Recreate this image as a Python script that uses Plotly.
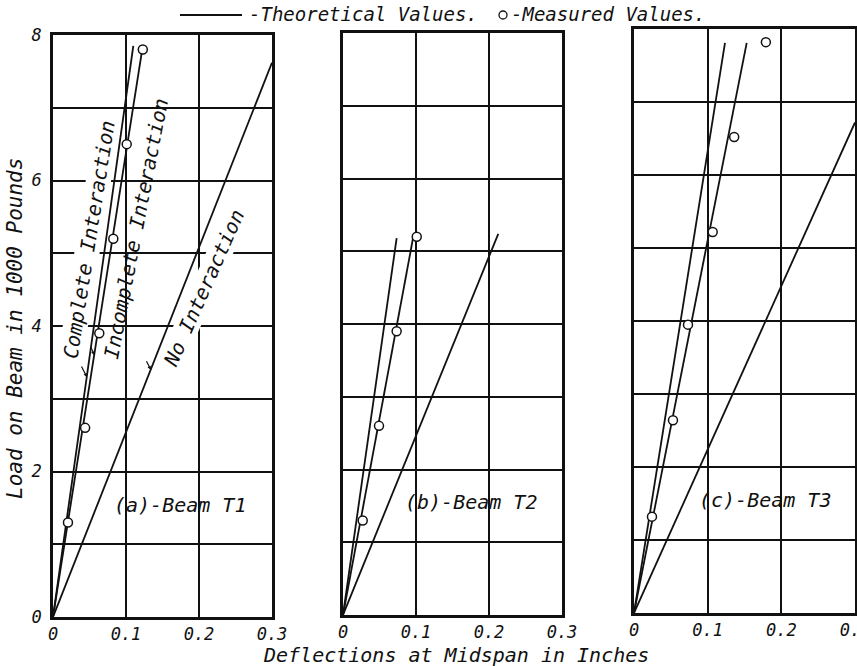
import plotly.graph_objects as go

# Measured loads (1000 lb) and midspan deflections (in) for the three beams
t1_load = [1.3, 2.6, 3.9, 5.2, 6.5, 7.8]
t1_defl = [0.0205, 0.044, 0.0634, 0.0826, 0.101, 0.123]

t2_load = [1.3, 2.6, 3.9, 5.2]
t2_defl = [0.027, 0.0493, 0.0735, 0.101]

t3_load = [1.32, 2.64, 3.95, 5.22, 6.52, 7.82]
t3_defl = [0.0244, 0.0529, 0.0733, 0.1068, 0.136, 0.179]

# Theoretical straight lines: end point (deflection, load) of each line from the origin
t1_complete = (0.110, 7.85)
t1_incomplete = (0.123, 7.85)
t1_none = (0.300, 7.62)

t2_complete = (0.0735, 5.18)
t2_incomplete = (0.0963, 5.20)
t2_none = (0.2127, 5.24)

t3_complete = (0.1235, 7.81)
t3_incomplete = (0.153, 7.81)
t3_none = (0.300, 6.72)

x_ticks = [0, 0.1, 0.2, 0.3]
x_labels = ["0", "0.1", "0.2", "0.3"]
y_ticks = [0, 1, 2, 3, 4, 5, 6, 7, 8]
y_labels = ["0", "", "2", "", "4", "", "6", "", "8"]

panel_titles = ["(a)-Beam T1", "(b)-Beam T2", "(c)-Beam T3"]

FONT = "DejaVu Sans Mono"
W, H = 857, 666
INK = "#111"


def txt_font(size):
    return dict(size=size, family=FONT, style="italic", color=INK)


def px_note(text, cx, cy, size, angle=0, anchor="center", **kw):
    return dict(text=text, x=cx / W, y=1 - cy / H, xref="paper", yref="paper",
                xanchor=anchor, yanchor="middle", showarrow=False,
                textangle=angle, font=txt_font(size), **kw)


panels = [
    dict(load=t1_load, defl=t1_defl, lines=[t1_complete, t1_incomplete, t1_none],
         xpx=(53, 272), ypx=(617, 35), label_px=(180, 505)),
    dict(load=t2_load, defl=t2_defl, lines=[t2_complete, t2_incomplete, t2_none],
         xpx=(343, 562), ypx=(615, 33), label_px=(471, 502)),
    dict(load=t3_load, defl=t3_defl, lines=[t3_complete, t3_incomplete, t3_none],
         xpx=(634, 855), ypx=(613, 29), label_px=(765, 500)),
]

fig = go.Figure()
layout = dict(
    width=W, height=H,
    margin=dict(l=0, r=0, t=0, b=0, autoexpand=False),
    paper_bgcolor="white", plot_bgcolor="white",
    showlegend=False,
    font=txt_font(16),
)

annotations = []
shapes = []

for i, p in enumerate(panels):
    n = "" if i == 0 else str(i + 1)
    xa, ya = "x" + n, "y" + n
    for (dx, ld) in p["lines"]:
        fig.add_trace(go.Scatter(x=[0, dx], y=[0, ld], mode="lines",
                                 line=dict(color=INK, width=1.8),
                                 xaxis=xa, yaxis=ya, hoverinfo="skip"))
    fig.add_trace(go.Scatter(x=p["defl"], y=p["load"], mode="markers",
                             marker=dict(symbol="circle", size=9, color="white",
                                         line=dict(color=INK, width=1.5)),
                             xaxis=xa, yaxis=ya, cliponaxis=False))
    xd = [p["xpx"][0] / W, p["xpx"][1] / W]
    yd = [1 - p["ypx"][0] / H, 1 - p["ypx"][1] / H]
    layout["xaxis" + n] = dict(
        domain=xd, range=[0, 0.3], tickvals=x_ticks, ticktext=x_labels,
        showgrid=True, gridcolor=INK, gridwidth=1.6, zeroline=False,
        showline=True, mirror=True, linecolor=INK, linewidth=2.5,
        ticks="", ticklabelstandoff=0, tickfont=txt_font(17),
        ticklabeloverflow="allow",
        anchor=ya, fixedrange=True, automargin=False,
    )
    layout["yaxis" + n] = dict(
        domain=yd, range=[0, 8], tickvals=y_ticks,
        ticktext=y_labels if i == 0 else [""] * len(y_ticks),
        showticklabels=(i == 0),
        showgrid=True, gridcolor=INK, gridwidth=1.6, zeroline=False,
        showline=True, mirror=True, linecolor=INK, linewidth=2.5,
        ticks="", ticklabelstandoff=5, tickfont=txt_font(17),
        ticklabeloverflow="allow",
        anchor=xa, fixedrange=True, automargin=False,
    )
    lx, ly = p["label_px"]
    annotations.append(px_note(panel_titles[i], lx, ly, 20))

# Curve labels in panel (a); the outer two are lettered over a white ground
curve_labels = [
    ("Complete Interaction", 89, 240, -81, True),
    ("Incomplete Interaction", 136, 229, -79, False),
    ("No Interaction", 204, 288, -66, True),
]
for txt, cx, cy, ang, ground in curve_labels:
    extra = dict(bgcolor="white", borderpad=0) if ground else {}
    annotations.append(px_note(txt, cx, cy, 20, angle=ang, **extra))

# Small leaders from each label to its line
leaders = [
    (3.3, t1_complete, -6, -12),
    (3.6, t1_incomplete, -4, -10),
    (3.4, t1_none, -5, -10),
]
for ld, (dx, top), ax, ay in leaders:
    annotations.append(dict(x=ld * dx / top, y=ld, xref="x", yref="y",
                            ax=ax, ay=ay, showarrow=True, arrowhead=2,
                            arrowsize=0.6, arrowwidth=1.2, arrowcolor=INK, text=""))

# Axis titles
annotations.append(px_note("Load on Beam in 1000 Pounds", 15, 329, 21, angle=-90))
annotations.append(px_note("Deflections at Midspan in Inches", 456, 655, 20))

# Key at the top
shapes.append(dict(type="line", xref="paper", yref="paper",
                   x0=180 / W, x1=242 / W, y0=1 - 15 / H, y1=1 - 15 / H,
                   line=dict(color=INK, width=1.8)))
annotations.append(px_note("-Theoretical Values.", 247, 14, 19, anchor="left"))
shapes.append(dict(type="circle", xref="paper", yref="paper",
                   x0=499 / W, x1=507 / W, y0=1 - 19 / H, y1=1 - 11 / H,
                   line=dict(color=INK, width=1.3)))
annotations.append(px_note("-Measured Values.", 509, 14, 19, anchor="left"))

layout["annotations"] = annotations
layout["shapes"] = shapes
fig.update_layout(**layout)
fig.write_html("out.html")
